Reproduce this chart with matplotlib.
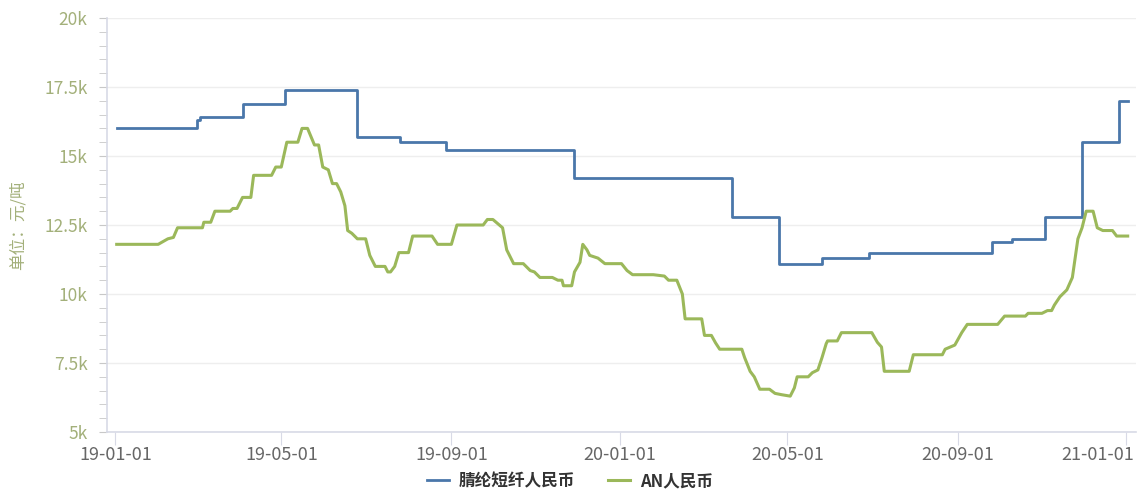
import matplotlib
matplotlib.use('Agg')
import matplotlib.pyplot as plt
import matplotlib.dates as mdates
import matplotlib.transforms as mtransforms
from matplotlib.ticker import MultipleLocator, FuncFormatter
import pandas as pd

plt.rcParams['font.family'] = ['Noto Sans CJK SC', 'DejaVu Sans']

# 腈纶短纤人民币: step changes (date the level starts, price)
pan_dates = ['2019-01-02', '2019-03-01', '2019-03-03', '2019-04-03', '2019-05-04',
             '2019-06-25', '2019-07-26', '2019-08-28', '2019-11-29', '2020-03-22',
             '2020-04-25', '2020-05-26', '2020-06-29', '2020-09-26', '2020-10-10',
             '2020-11-03', '2020-11-30', '2020-12-27', '2021-01-02']
pan_values = [16000, 16300, 16400, 16900, 17400,
              15700, 15500, 15200, 14200, 12800,
              11100, 11300, 11500, 11900, 12000,
              12800, 15500, 17000, 17000]

# AN人民币
an_dates = ['2019-01-02', '2019-02-01', '2019-02-08', '2019-02-12', '2019-02-15', '2019-03-05',
            '2019-03-06', '2019-03-11', '2019-03-14', '2019-03-25', '2019-03-27', '2019-03-30',
            '2019-04-03', '2019-04-09', '2019-04-11', '2019-04-24', '2019-04-27', '2019-05-01',
            '2019-05-05', '2019-05-13', '2019-05-16', '2019-05-20', '2019-05-25', '2019-05-28',
            '2019-05-31', '2019-06-04', '2019-06-07', '2019-06-10', '2019-06-13', '2019-06-16',
            '2019-06-18', '2019-06-21', '2019-06-25', '2019-07-01', '2019-07-04', '2019-07-08',
            '2019-07-15', '2019-07-17', '2019-07-19', '2019-07-22', '2019-07-25', '2019-08-01',
            '2019-08-04', '2019-08-18', '2019-08-22', '2019-09-01', '2019-09-05', '2019-09-24',
            '2019-09-27', '2019-10-01', '2019-10-08', '2019-10-11', '2019-10-16', '2019-10-23',
            '2019-10-28', '2019-10-31', '2019-11-04', '2019-11-13', '2019-11-17', '2019-11-20',
            '2019-11-21', '2019-11-27', '2019-11-29', '2019-12-03', '2019-12-05', '2019-12-08',
            '2019-12-10', '2019-12-16', '2019-12-21', '2020-01-02', '2020-01-06', '2020-01-10',
            '2020-01-25', '2020-02-02', '2020-02-05', '2020-02-11', '2020-02-15', '2020-02-17',
            '2020-02-29', '2020-03-02', '2020-03-07', '2020-03-10', '2020-03-13', '2020-03-29',
            '2020-03-31', '2020-04-04', '2020-04-07', '2020-04-11', '2020-04-18', '2020-04-22',
            '2020-04-27', '2020-05-03', '2020-05-06', '2020-05-08', '2020-05-16', '2020-05-19',
            '2020-05-23', '2020-05-26', '2020-05-29', '2020-05-30', '2020-06-06', '2020-06-09',
            '2020-07-01', '2020-07-05', '2020-07-08', '2020-07-10', '2020-07-28', '2020-07-31',
            '2020-08-21', '2020-08-23', '2020-08-30', '2020-09-04', '2020-09-08', '2020-09-30',
            '2020-10-05', '2020-10-20', '2020-10-22', '2020-11-01', '2020-11-05', '2020-11-08',
            '2020-11-10', '2020-11-14', '2020-11-19', '2020-11-23', '2020-11-27', '2020-11-30',
            '2020-12-03', '2020-12-08', '2020-12-11', '2020-12-15', '2020-12-22', '2020-12-25',
            '2021-01-02']
an_values = [11800, 11800, 12000, 12050, 12400, 12400,
             12600, 12600, 13000, 13000, 13100, 13100,
             13500, 13500, 14300, 14300, 14600, 14600,
             15500, 15500, 16000, 16000, 15400, 15400,
             14600, 14500, 14000, 14000, 13700, 13200,
             12300, 12200, 12000, 12000, 11400, 11000,
             11000, 10800, 10800, 11000, 11500, 11500,
             12100, 12100, 11800, 11800, 12500, 12500,
             12700, 12700, 12400, 11600, 11100, 11100,
             10850, 10800, 10600, 10600, 10500, 10500,
             10300, 10300, 10800, 11150, 11800, 11600,
             11400, 11300, 11100, 11100, 10850, 10700,
             10700, 10650, 10500, 10500, 10000, 9100,
             9100, 8500, 8500, 8230, 8000, 8000,
             7700, 7200, 7000, 6550, 6550, 6400,
             6350, 6300, 6600, 7000, 7000, 7150,
             7250, 7700, 8200, 8300, 8300, 8600,
             8600, 8250, 8080, 7200, 7200, 7800,
             7800, 8000, 8150, 8600, 8900, 8900,
             9200, 9200, 9300, 9300, 9400, 9400,
             9600, 9900, 10150, 10600, 12000, 12400,
             13000, 13000, 12400, 12300, 12300, 12100,
             12100]

x_ticks = ['2019-01-01', '2019-05-01', '2019-09-01', '2020-01-01',
           '2020-05-01', '2020-09-01', '2021-01-01']

fig = plt.figure(figsize=(11.47, 4.96), dpi=100)
ax = fig.add_axes([0.0933, 0.129, 0.8971, 0.8347])

ax.plot(pd.to_datetime(pan_dates), pan_values, drawstyle='steps-post',
        color='#4a77aa', lw=2.0, label='腈纶短纤人民币')
ax.plot(pd.to_datetime(an_dates), an_values,
        color='#9bb85a', lw=2.2, label='AN人民币')

ax.set_ylim(5000, 20000)
ax.set_xlim(pd.Timestamp('2018-12-26'), pd.Timestamp('2021-01-08'))

ax.yaxis.set_major_locator(MultipleLocator(2500))
ax.yaxis.set_minor_locator(MultipleLocator(500))
ax.yaxis.set_major_formatter(FuncFormatter(lambda v, p: ('%g' % (v / 1000)) + 'k'))
ax.set_xticks(pd.to_datetime(x_ticks))
ax.xaxis.set_major_formatter(mdates.DateFormatter('%y-%m-%d'))

for s in ['top', 'right']:
    ax.spines[s].set_visible(False)
for s in ['left', 'bottom']:
    ax.spines[s].set_color('#d8dae6')
    ax.spines[s].set_linewidth(1.2)

ax.tick_params(axis='y', which='both', length=6, color='#c8c8c8',
               labelcolor='#a3b07a', labelsize=12.5, pad=8)
ax.tick_params(axis='x', length=9, color='#d8dae6', labelcolor='#666666',
               labelsize=13, pad=1)
ax.grid(axis='y', which='major', color='#eeeeee', lw=1)
ax.set_axisbelow(True)

# last date label kept inside the figure, like the original
fig.canvas.draw()
last = ax.get_xticklabels()[-1]
last.set_ha('right')
last.set_transform(last.get_transform() +
                   mtransforms.ScaledTranslation(8 / 100, 0, fig.dpi_scale_trans))

ax.set_ylabel('单位：元/吨', color='#a3b07a', fontsize=12, labelpad=13)

fig.legend(loc='center', bbox_to_anchor=(0.497, 0.03), ncol=2, frameon=False,
           handlelength=1.3, handletextpad=0.6, columnspacing=2.0,
           prop={'size': 12, 'weight': 'bold'}, labelcolor='#333333')

fig.savefig('out.png', dpi=100)
